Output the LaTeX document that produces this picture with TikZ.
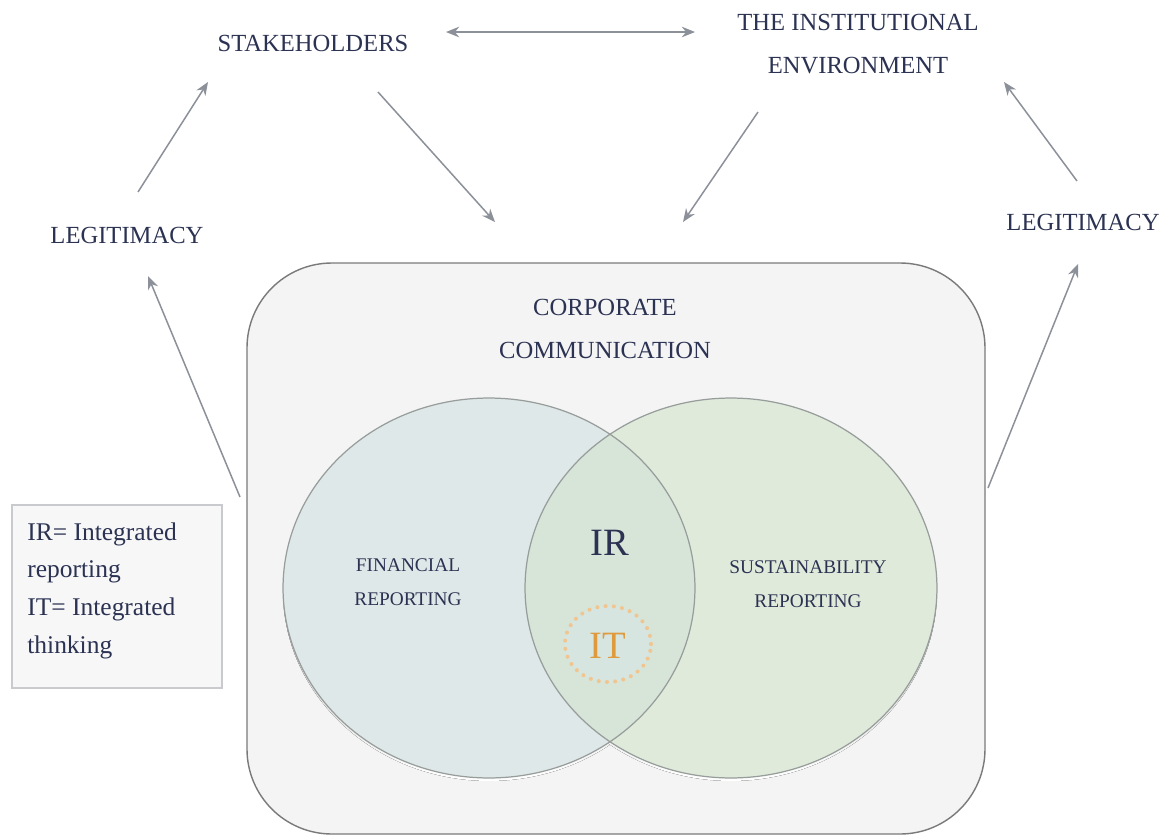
\documentclass[tikz,border=0pt]{standalone}
\usepackage{fontspec}
\setmainfont{Liberation Serif}
\usetikzlibrary{arrows.meta}

\definecolor{ink}{HTML}{2B3252}
\definecolor{arrowgray}{HTML}{8C9099}
\definecolor{boxfill}{HTML}{F4F4F5}
\definecolor{boxline}{HTML}{7A7A7A}
\definecolor{ellline}{HTML}{979D9B}
\definecolor{finfill}{HTML}{DFE8E8}
\definecolor{susfill}{HTML}{E0EADB}
\definecolor{lensfill}{HTML}{D7E4D8}
\definecolor{corefill}{HTML}{D6E6E6}
\definecolor{itorange}{HTML}{DE9A3C}
\definecolor{itdots}{HTML}{F0C590}
\definecolor{legendline}{HTML}{C8CACD}
\definecolor{shade}{HTML}{C4C8C8}

\tikzset{
  lbl/.style={text=ink, inner sep=0pt, align=center,
    font=\fontsize{14pt}{24pt}\selectfont},
  smalllbl/.style={text=ink, inner sep=0pt, align=center,
    font=\fontsize{11pt}{19pt}\selectfont},
  biglbl/.style={inner sep=0pt, font=\fontsize{22pt}{24pt}\selectfont},
  link/.style={draw=arrowgray, line width=0.85pt,
    -{Stealth[length=7.5pt, width=6pt]}},
  twoway/.style={draw=arrowgray, line width=0.85pt,
    {Stealth[length=7.5pt, width=6pt]}-{Stealth[length=7.5pt, width=6pt]}},
  field/.style={x radius=4.12cm, y radius=3.8cm},
}

\begin{document}
\begin{tikzpicture}[x=0.02cm, y=-0.02cm]
\useasboundingbox (0,0) rectangle (1171,836);
\fill[white] (0,0) rectangle (1171,836);

% corporate communication frame
\draw[draw=boxline, fill=boxfill, line width=0.8pt, rounded corners=1.7cm]
  (247,263) rectangle (985,834);
\node[lbl] (corp) at (605,329) {CORPORATE\\COMMUNICATION};

% soft shadows under the two fields
\fill[shade] (489,591) ellipse [field];
\fill[shade] (731,591) ellipse [field];

% the two reporting fields and their overlap
\fill[finfill] (489,588) ellipse [field];
\fill[susfill] (731,588) ellipse [field];
\begin{scope}
  \clip (489,588) ellipse [field];
  \fill[lensfill] (731,588) ellipse [field];
\end{scope}
\draw[ellline, line width=0.7pt] (489,588) ellipse [field];
\draw[ellline, line width=0.7pt] (731,588) ellipse [field];

\node[smalllbl] (fin) at (408,582) {FINANCIAL\\REPORTING};
\node[smalllbl] (sus) at (808,584) {SUSTAINABILITY\\REPORTING};
\node[biglbl, text=ink] (ir) at (610,543) {IR};

% integrated thinking core
\fill[corefill, fill opacity=0.6] (608,644) ellipse [x radius=0.86cm, y radius=0.76cm];
\draw[itdots, line width=2.3pt, line cap=round, dash pattern=on 0pt off 4.7pt]
  (608,644) ellipse [x radius=0.86cm, y radius=0.76cm];
\node[biglbl, text=itorange] (it) at (608,646) {IT};

% surrounding actors
\node[lbl] (stake) at (313,43) {STAKEHOLDERS};
\node[lbl] (inst) at (858,44) {THE INSTITUTIONAL\\ENVIRONMENT};
\node[lbl] (legL) at (127,235) {LEGITIMACY};
\node[lbl] (legR) at (1083,222) {LEGITIMACY};

% connector end points
\coordinate (stakeE) at (446,32);
\coordinate (instW) at (695,32);
\coordinate (legLtop) at (138,192);
\coordinate (stakeSW) at (208,82);
\coordinate (stakeSE) at (378,92);
\coordinate (corpNW) at (495,222);
\coordinate (instSW) at (758,112);
\coordinate (corpNE) at (683,222);
\coordinate (legRtop) at (1077,181);
\coordinate (instSE) at (1004,82);
\coordinate (frameL) at (240,497);
\coordinate (legLbot) at (148,276);
\coordinate (frameR) at (988,488);
\coordinate (legRbot) at (1078,264);

\draw[twoway] (stakeE) -- (instW);
\draw[link] (legLtop) -- (stakeSW);
\draw[link] (stakeSE) -- (corpNW);
\draw[link] (instSW) -- (corpNE);
\draw[link] (legRtop) -- (instSE);
\draw[link] (frameL) -- (legLbot);
\draw[link] (frameR) -- (legRbot);

% legend
\draw[legendline, fill=white!97!black, line width=0.6pt] (12,505) rectangle (222,688);
\node[text=ink, inner sep=0pt, anchor=north west, align=left,
  font=\fontsize{14.5pt}{21.6pt}\selectfont] (legend) at (27,522)
  {IR= Integrated\\reporting\\IT= Integrated\\thinking};
\end{tikzpicture}
\end{document}
